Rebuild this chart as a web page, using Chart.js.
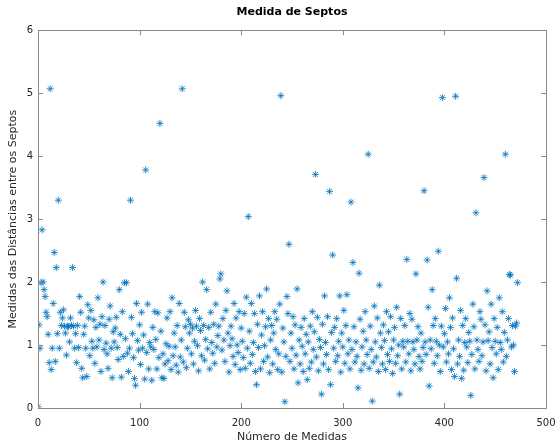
<!DOCTYPE html>
<html>
<head>
<meta charset="utf-8">
<script src="https://cdn.jsdelivr.net/npm/chart.js@4.4.1/dist/chart.umd.min.js"></script>
<style>
  html, body { margin: 0; padding: 0; background: #fff; }
  #wrap { width: 558px; height: 444px; }
</style>
</head>
<body>
<div id="wrap"><canvas id="septosChart" width="558" height="444"></canvas></div>
<script>
  // distancias medidas, na ordem das medidas (x = numero da medida)
  const distancias = [
    0.02, 1.32, 0.95, 1.99, 2.83, 2.00, 1.88, 1.77, 1.52, 1.45,
    1.17, 0.72, 5.07, 0.61, 0.95, 1.66, 2.47, 0.74, 2.23, 1.18,
    3.30, 0.95, 1.52, 1.31, 1.43, 1.56, 1.30, 1.19, 0.84, 1.30,
    1.29, 1.05, 1.43, 1.31, 2.23, 1.30, 0.95, 1.18, 0.72, 1.31,
    0.96, 1.77, 1.52, 0.63, 0.48, 1.17, 1.30, 0.95, 0.50, 1.64,
    1.43, 0.83, 1.55, 1.06, 0.95, 1.40, 0.71, 1.28, 0.97, 1.75,
    1.08, 1.33, 0.58, 1.45, 2.00, 0.93, 1.31, 1.03, 0.86, 0.63,
    1.41, 1.62, 0.95, 0.48, 1.21, 1.05, 1.27, 1.44, 0.96, 0.77,
    1.88, 1.17, 0.49, 1.53, 0.82, 1.99, 1.10, 1.99, 0.87, 0.58,
    0.95, 3.30, 1.44, 1.18, 0.80, 0.47, 0.36, 1.66, 1.07, 0.92,
    1.32, 0.69, 1.52, 0.95, 1.16, 0.46, 3.78, 0.88, 1.65, 0.62,
    1.04, 0.97, 0.44, 1.28, 0.93, 1.53, 1.09, 0.62, 1.51, 0.80,
    4.52, 1.22, 0.48, 0.86, 0.47, 0.70, 1.02, 1.43, 0.75, 0.98,
    1.53, 0.61, 1.75, 0.83, 1.19, 0.97, 0.68, 1.31, 0.57, 1.66,
    0.81, 1.08, 5.07, 0.73, 1.52, 1.29, 0.64, 0.95, 1.40, 1.19,
    1.33, 0.86, 1.27, 0.70, 1.06, 1.55, 1.30, 0.99, 0.59, 1.42,
    1.23, 0.83, 2.00, 1.31, 0.76, 1.09, 1.88, 0.94, 1.28, 0.62,
    1.52, 1.04, 0.87, 1.33, 0.71, 1.65, 0.97, 1.15, 1.30, 2.05,
    2.13, 0.92, 1.42, 1.08, 0.74, 1.55, 1.86, 1.19, 0.57, 0.99,
    1.30, 1.10, 0.82, 1.66, 0.69, 1.43, 1.00, 0.88, 1.53, 0.61,
    1.27, 1.06, 0.80, 1.50, 0.63, 1.76, 0.95, 3.04, 1.22, 0.71,
    1.66, 0.85, 1.04, 1.50, 0.58, 0.37, 1.33, 0.96, 1.78, 0.62,
    1.16, 1.53, 0.74, 0.99, 1.29, 1.89, 0.81, 1.42, 0.56, 1.08,
    1.31, 0.70, 1.19, 1.53, 0.93, 1.41, 0.61, 0.86, 1.65, 4.96,
    0.57, 1.27, 1.05, 0.10, 0.82, 1.77, 1.50, 2.60, 0.74, 1.19,
    0.95, 1.45, 0.62, 1.32, 0.84, 1.89, 0.40, 1.08, 0.70, 1.28,
    0.98, 0.58, 1.42, 0.86, 1.17, 0.45, 1.05, 0.63, 1.30, 0.73,
    1.53, 0.93, 1.21, 3.71, 0.81, 1.44, 0.59, 1.09, 0.96, 0.22,
    1.33, 0.70, 1.78, 1.04, 0.85, 1.45, 0.61, 3.44, 0.37, 1.20,
    2.43, 0.95, 1.28, 0.74, 1.42, 0.83, 1.06, 1.78, 0.57, 1.19,
    0.97, 1.55, 0.71, 1.31, 1.80, 0.86, 1.08, 0.62, 3.27, 0.93,
    2.31, 1.29, 0.73, 1.05, 0.82, 0.32, 2.14, 1.41, 0.60, 0.97,
    1.22, 0.70, 1.53, 1.08, 0.85, 4.03, 0.63, 1.30, 0.93, 0.11,
    0.73, 1.62, 1.05, 0.81, 1.43, 0.58, 1.95, 1.19, 0.96, 0.70,
    1.32, 1.07, 0.61, 1.53, 0.85, 1.21, 0.74, 1.45, 0.94, 0.55,
    1.08, 1.28, 0.71, 1.60, 0.83, 1.00, 0.22, 1.42, 0.62, 1.06,
    0.97, 1.31, 0.73, 2.36, 1.06, 0.86, 1.50, 0.59, 1.41, 1.05,
    0.93, 0.70, 2.13, 1.08, 1.29, 0.82, 0.62, 1.19, 0.74, 0.96,
    3.45, 1.05, 0.85, 2.35, 1.60, 0.35, 1.08, 0.94, 1.88, 1.31,
    0.71, 1.42, 1.06, 0.83, 2.49, 1.00, 0.58, 1.30, 4.93, 0.97,
    1.18, 1.58, 0.73, 1.05, 0.86, 1.75, 1.28, 0.61, 1.43, 0.94,
    0.50, 4.95, 2.06, 0.70, 1.08, 0.82, 1.55, 0.47, 1.31, 0.60,
    1.04, 1.42, 0.97, 0.72, 1.20, 1.06, 0.20, 0.85, 1.65, 1.29,
    0.62, 3.10, 1.08, 0.93, 0.74, 1.53, 1.41, 0.83, 1.05, 3.66,
    1.32, 0.59, 1.86, 1.07, 1.21, 0.70, 1.65, 0.96, 0.48, 1.42,
    1.06, 0.86, 1.28, 0.61, 1.75, 1.04, 0.93, 1.53, 0.73, 1.20,
    4.03, 0.82, 1.08, 1.42, 2.12, 2.11, 0.97, 1.31, 1.00, 0.58,
    1.30, 1.35, 1.99
  ];
  const xTicks = [0, 100, 200, 300, 400, 500];
  const yTicks = [0, 1, 2, 3, 4, 5, 6];

  const pontos = distancias.map((d, i) => ({ x: i, y: d }));

  // moldura fechada com marcas para dentro (estilo matlab)
  const frameTicks = {
    id: "frameTicks",
    afterDraw(chart) {
      const { ctx, chartArea: a, scales } = chart;
      ctx.save();
      ctx.strokeStyle = "#8a8a8a";
      ctx.lineWidth = 1;
      ctx.strokeRect(Math.round(a.left) + 0.5, Math.round(a.top) + 0.5,
        Math.round(a.right - a.left), Math.round(a.bottom - a.top));
      ctx.beginPath();
      xTicks.forEach(t => {
        const px = Math.round(scales.x.getPixelForValue(t)) + 0.5;
        ctx.moveTo(px, a.bottom); ctx.lineTo(px, a.bottom - 5);
        ctx.moveTo(px, a.top); ctx.lineTo(px, a.top + 5);
      });
      yTicks.forEach(t => {
        const py = Math.round(scales.y.getPixelForValue(t)) + 0.5;
        ctx.moveTo(a.left, py); ctx.lineTo(a.left + 5, py);
        ctx.moveTo(a.right, py); ctx.lineTo(a.right - 5, py);
      });
      ctx.stroke();
      ctx.restore();
    }
  };

  Chart.defaults.font.family = "'DejaVu Sans', sans-serif";
  Chart.defaults.color = "#262626";

  const ctx = document.getElementById("septosChart").getContext("2d");
  const chart = new Chart(ctx, {
    type: "scatter",
    data: {
      datasets: [{
        label: "Septos",
        data: pontos,
        pointStyle: "star",
        pointRadius: 3.5,
        borderWidth: 0.8,
        borderColor: "#0072BD",
        backgroundColor: "#0072BD"
      }]
    },
    options: {
      responsive: false,
      animation: false,
      layout: { padding: { top: 0, right: 12, bottom: 0, left: 0 } },
      plugins: {
        legend: { display: false },
        tooltip: { enabled: false },
        title: {
          display: true,
          text: "Medida de Septos",
          fullSize: false,
          color: "#000",
          font: { size: 11, weight: "bold" },
          padding: { top: 6, bottom: 11 }
        }
      },
      scales: {
        x: {
          type: "linear",
          min: 0,
          max: 500,
          afterFit: s => { s.height = 36; s.paddingLeft = 0; s.paddingRight = 0; },
          afterBuildTicks: s => { s.ticks = xTicks.map(v => ({ value: v })); },
          grid: { display: false, drawTicks: false },
          border: { display: false },
          ticks: { font: { size: 10 }, padding: 9, maxRotation: 0 },
          title: {
            display: true,
            text: "Número de Medidas",
            font: { size: 11 },
            padding: { top: 0, bottom: 0 }
          }
        },
        y: {
          type: "linear",
          min: 0,
          max: 6,
          afterFit: s => { s.width = 38; s.paddingTop = 0; s.paddingBottom = 0; },
          afterBuildTicks: s => { s.ticks = yTicks.map(v => ({ value: v })); },
          grid: { display: false, drawTicks: false },
          border: { display: false },
          ticks: { font: { size: 10 }, padding: 5 },
          title: {
            display: true,
            text: "Medidas das Distâncias entre os Septos",
            font: { size: 11 },
            padding: { top: 7, bottom: 0 }
          }
        }
      }
    },
    plugins: [frameTicks]
  });
</script>
</body>
</html>
